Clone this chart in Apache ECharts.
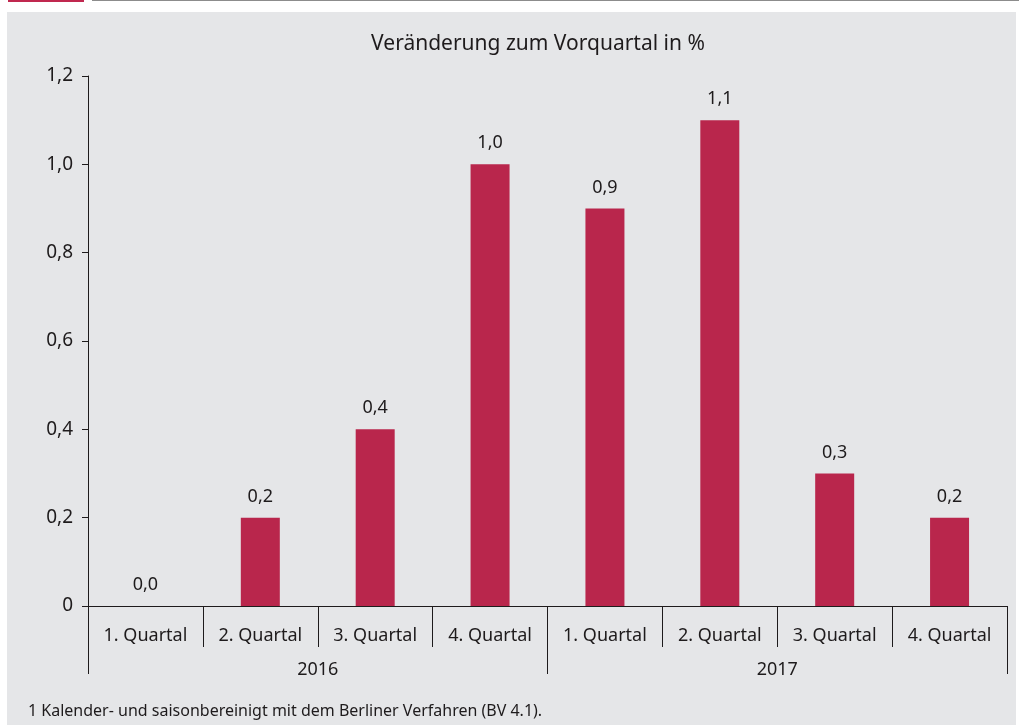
<!DOCTYPE html>
<html lang="de">
<head>
    <meta charset="UTF-8">
    <title>Veränderung zum Vorquartal</title>
    <style>
        body { margin: 0; background: #ffffff; }
        #panel { position: absolute; left: 7px; top: 12px; width: 1009px; height: 713px; background: #e5e6e8; }
        #redbar { position: absolute; left: 8px; top: 0; width: 76px; height: 2px; background: #c0284f; }
        #greyline { position: absolute; left: 92px; top: 0; width: 927px; height: 1px; background: #8c8c8c; }
        #main { position: absolute; left: 0; top: 0; width: 1019px; height: 725px; }
    </style>
</head>
<script src="https://cdn.jsdelivr.net/npm/echarts@6/dist/echarts.min.js"></script>
<body>
<div id="redbar"></div>
<div id="greyline"></div>
<div id="panel"></div>
<div id="main"></div>
<script type="text/javascript">
    // Daten
    var quartale = ['1. Quartal', '2. Quartal', '3. Quartal', '4. Quartal',
                    '1. Quartal', '2. Quartal', '3. Quartal', '4. Quartal'];
    var jahre = ['2016', '2017'];
    var werte = [0.0, 0.2, 0.4, 1.0, 0.9, 1.1, 0.3, 0.2];

    var schrift = 'Noto Sans';
    var textFarbe = '#1e1b1c';

    function komma(v, stellen) {
        return v.toFixed(stellen).replace('.', ',');
    }

    var myChart = echarts.init(document.getElementById('main'))
    var option = {
        backgroundColor: 'transparent',
        animation: false,
        title: {
            text: 'Veränderung zum Vorquartal in %',
            left: 538,
            textAlign: 'center',
            top: 34,
            padding: 0,
            textStyle: {
                fontFamily: schrift,
                fontSize: 21,
                fontWeight: 'normal',
                color: textFarbe
            }
        },
        grid: {
            left: 88,
            right: 12,
            top: 76,
            bottom: 119,
            containLabel: false
        },
        xAxis: [{
            type: 'category',
            data: quartale,
            position: 'bottom',
            axisLine: { show: true, lineStyle: { color: textFarbe, width: 1 } },
            axisTick: { show: true, interval: 0, length: 41, lineStyle: { color: textFarbe } },
            axisLabel: {
                interval: 0,
                margin: 21,
                fontFamily: schrift,
                fontSize: 18,
                color: textFarbe
            }
        }, {
            type: 'category',
            data: jahre,
            position: 'bottom',
            axisLine: { show: false },
            axisTick: { show: true, interval: 0, length: 68, lineStyle: { color: textFarbe } },
            axisLabel: {
                interval: 0,
                margin: 55,
                fontFamily: schrift,
                fontSize: 18,
                color: textFarbe
            }
        }],
        yAxis: {
            type: 'value',
            min: 0,
            max: 1.2,
            interval: 0.2,
            splitLine: { show: false },
            axisLine: { show: true, lineStyle: { color: textFarbe, width: 1 } },
            axisTick: { show: true, length: 6, lineStyle: { color: textFarbe } },
            axisLabel: {
                margin: 15,
                fontFamily: schrift,
                fontSize: 19,
                color: textFarbe,
                formatter: function (v) {
                    return v === 0 ? '0' : komma(v, 1);
                }
            }
        },
        series: [{
            type: 'bar',
            xAxisIndex: 0,
            data: werte,
            barWidth: 39,
            itemStyle: { color: '#b9264c' },
            label: {
                show: true,
                position: 'top',
                distance: 12,
                fontFamily: schrift,
                fontSize: 18,
                color: textFarbe,
                formatter: function (p) {
                    return komma(p.value, 1);
                }
            }
        }],
        graphic: [{
            type: 'text',
            left: 28,
            top: 703,
            style: {
                text: '1 Kalender- und saisonbereinigt mit dem Berliner Verfahren (BV 4.1).',
                fontFamily: schrift,
                fontSize: 16,
                fill: textFarbe
            }
        }]
    }
    myChart.setOption(option)
</script>
</body>
</html>
